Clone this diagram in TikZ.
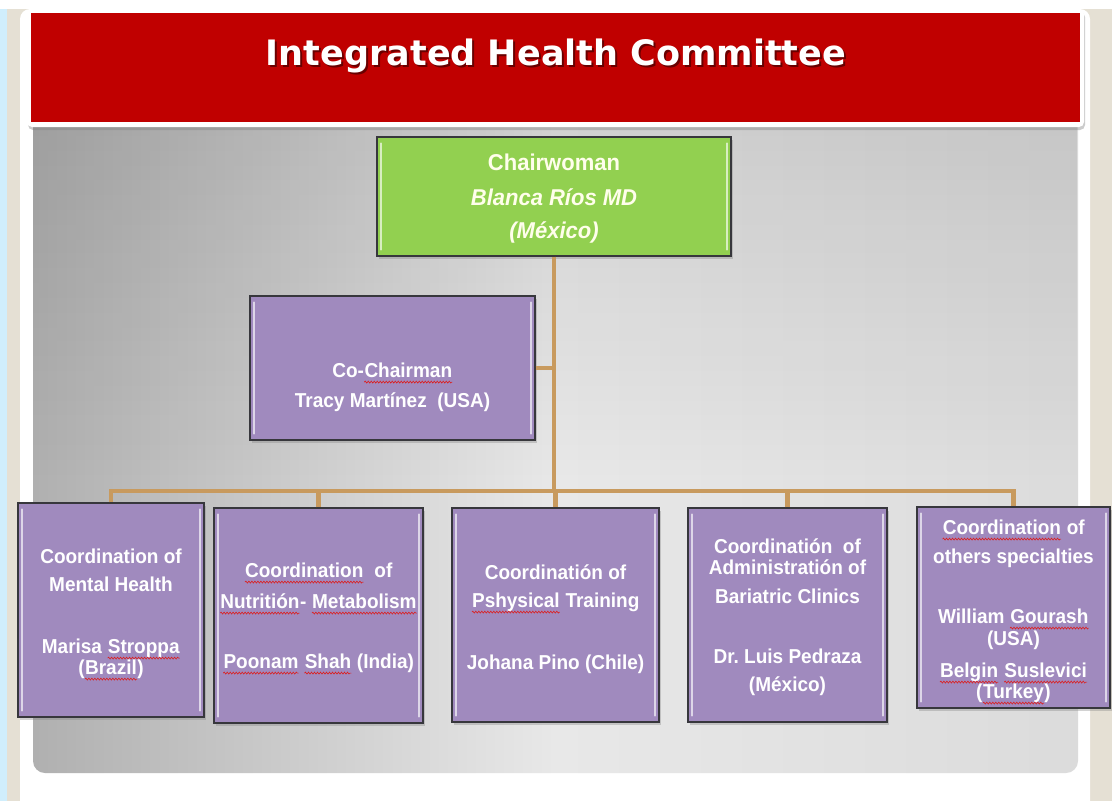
\documentclass[tikz,border=0pt]{standalone}
\usepackage{fontspec}
\setmainfont{Liberation Sans}
\newfontfamily\titlefont{DejaVu Sans}
\usetikzlibrary{shadows,fadings,decorations.pathmorphing}
\definecolor{bannerred}{RGB}{192,0,0}
\definecolor{chairgreen}{RGB}{146,208,80}
\definecolor{boxpurple}{RGB}{160,138,190}
\definecolor{conncol}{RGB}{200,154,94}
\definecolor{beigebg}{RGB}{229,224,212}
\definecolor{bluebg}{RGB}{208,238,252}
\definecolor{boxborder}{RGB}{55,55,60}
\definecolor{spellred}{RGB}{220,30,30}
\newcommand\spl[1]{\tikz[baseline=(w.base)]{\node[inner sep=0pt] (w) {#1};
  \draw[spellred, line width=0.6pt, decorate, decoration={snake, amplitude=0.9pt, segment length=3pt}]
    ([yshift=-4.8pt]w.base west) -- ([yshift=-4.8pt]w.base east);}}
\tikzfading[name=topfade, top color=transparent!0, bottom color=transparent!100]
\newcommand\txl[4]{\node[txt,anchor=base] (#1) at (#2,#3) {\scalebox{1}[1.06]{#4}};}
\newcommand\chl[4]{\node[chtxt,anchor=base] (#1) at (#2,#3) {\scalebox{1}[1.04]{#4}};}
\newcommand\bevel[1]{%
  \draw[bev] ([xshift=5pt,yshift=-7pt]#1.north west) -- ([xshift=5pt,yshift=7pt]#1.south west);
  \draw[bev] ([xshift=-5pt,yshift=-7pt]#1.north east) -- ([xshift=-5pt,yshift=7pt]#1.south east);}
\begin{document}
\begin{tikzpicture}[x=1pt,y=-1pt,
  txt/.style={inner sep=0pt, text=white, font=\bfseries\fontsize{19}{22}\selectfont},
  chtxt/.style={inner sep=0pt, text=white!92!yellow, font=\bfseries\fontsize{22}{26}\selectfont},
  obox/.style={draw=boxborder, line width=1.3pt, fill=boxpurple, inner sep=0pt,
    drop shadow={opacity=0.35, shadow xshift=2pt, shadow yshift=-3pt}},
  cbox/.style={obox, fill=chairgreen},
  bev/.style={line width=2pt, white, opacity=0.65, line cap=round},
  conn/.style={conncol, line width=4.5pt},
  titletxt/.style={inner sep=0pt, font=\titlefont\bfseries\fontsize{35}{40}\selectfont}
]
\useasboundingbox (0,0) rectangle (1112,801);
% background
\fill[beigebg] (0,0) rectangle (1112,801);
\fill[bluebg] (0,0) rectangle (7,801);
\fill[white] (0,0) rectangle (1112,9);
\fill[white, rounded corners=10] (20,9) rectangle (1090,830);
% gray panel
\shade[left color=black!31, right color=black!14, middle color=black!9, rounded corners=12] (33,100) rectangle (1078,773);
\fill[black, opacity=0.10, path fading=topfade] (33,100) rectangle (1078,480);
% banner
\fill[white, rounded corners=5, drop shadow={opacity=0.4, shadow xshift=1pt, shadow yshift=-3pt}] (27,9) rectangle (1084,127);
\fill[bannerred] (31,13) rectangle (1080,122);
\node[titletxt, text=black, opacity=0.45, anchor=base] (titleshadow) at (558,67) {Integrated Health Committee};
\node[titletxt, text=white, anchor=base] (title) at (556,65) {Integrated Health Committee};
% boxes
\node[cbox, minimum width=354pt, minimum height=119pt] (chair) at (554,196.5) {};
\node[obox, minimum width=285pt, minimum height=144pt] (co) at (392.5,368) {};
\node[obox, minimum width=186pt, minimum height=214pt] (b1) at (111,610) {};
\node[obox, minimum width=209pt, minimum height=215pt] (b2) at (318.5,615.5) {};
\node[obox, minimum width=207pt, minimum height=214pt] (b3) at (555.5,615) {};
\node[obox, minimum width=199pt, minimum height=214pt] (b4) at (787.5,615) {};
\node[obox, minimum width=193pt, minimum height=201pt] (b5) at (1013.5,607.5) {};
\bevel{chair}\bevel{co}\bevel{b1}\bevel{b2}\bevel{b3}\bevel{b4}\bevel{b5}
% connectors
\coordinate (j) at (554,491);
\draw[conn] (chair.south) -- (j);
\draw[conn] (co.east) -- (co.east -| j);
\draw[conn] (b1.north) |- (j) -| (b5.north);
\draw[conn] (b2.north) -- (b2.north |- j);
\draw[conn] (b3.north) -- (b3.north |- j);
\draw[conn] (b4.north) -- (b4.north |- j);
% texts
\chl{ch1}{554}{170}{Chairwoman}
\chl{ch2}{554}{205}{\itshape Blanca Ríos MD}
\chl{ch3}{554}{238}{\itshape (México)}
\txl{co1}{392.5}{377}{Co-\spl{Chairman}}
\txl{co2}{392.5}{407}{Tracy Martínez~ (USA)}
\txl{t11}{111}{563}{Coordination of}
\txl{t12}{111}{591}{Mental Health}
\txl{t13}{111}{653}{Marisa \spl{Stroppa}}
\txl{t14}{111}{674}{(\spl{Brazil})}
\txl{t21}{318.5}{577}{\spl{Coordination}~ of}
\txl{t22}{318.5}{608}{\spl{Nutritión}- \spl{Metabolism}}
\txl{t23}{318.5}{668}{\spl{Poonam} \spl{Shah} (India)}
\txl{t31}{555.5}{579}{Coordinatión of}
\txl{t32}{555.5}{607}{\spl{Pshysical} Training}
\txl{t33}{555.5}{669}{Johana Pino (Chile)}
\txl{t41}{787.5}{553}{Coordinatión~ of}
\txl{t42}{787.5}{574}{Administratión of}
\txl{t43}{787.5}{603}{Bariatric Clinics}
\txl{t44}{787.5}{663}{Dr.\ Luis Pedraza}
\txl{t45}{787.5}{691}{(México)}
\txl{t51}{1013.5}{534}{\spl{Coordination} of}
\txl{t52}{1013.5}{563}{others specialties}
\txl{t53}{1013.5}{623}{William \spl{Gourash}}
\txl{t54}{1013.5}{645}{(USA)}
\txl{t55}{1013.5}{677}{\spl{Belgin} \spl{Suslevici}}
\txl{t56}{1013.5}{698}{(\spl{Turkey})}
\end{tikzpicture}
\end{document}
